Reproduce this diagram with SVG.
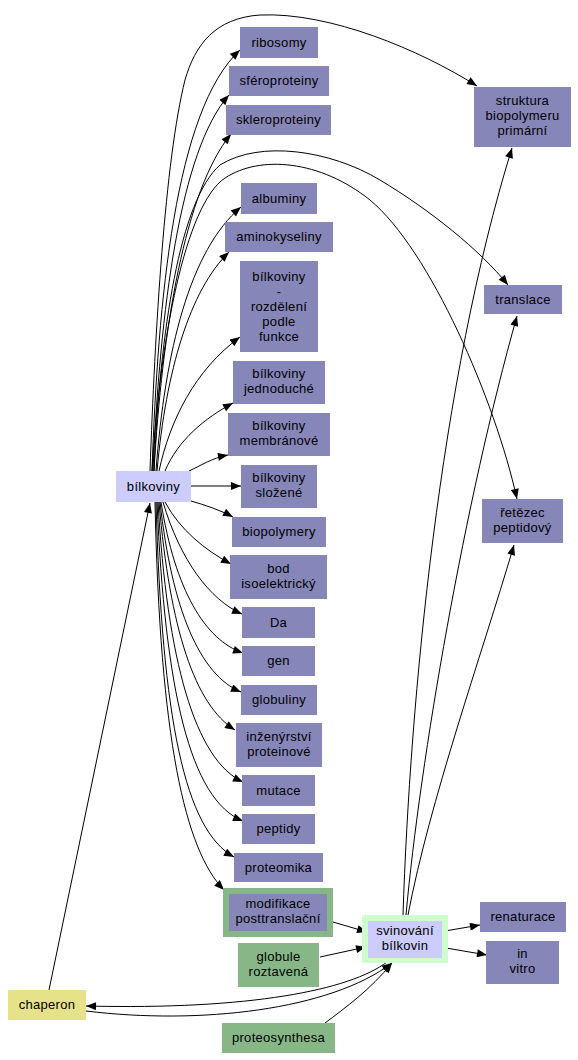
<svg xmlns="http://www.w3.org/2000/svg" width="578" height="1060" viewBox="0 0 578 1060">
<style>
.p{fill:#8686b8}
.g{fill:#87b787}
.lg{fill:#ccffcc}
.lv{fill:#ccccff}
.y{fill:#e6e28a}
text{font-family:"Liberation Sans",Arial,sans-serif;font-size:13px;letter-spacing:0.3px;fill:#000;text-anchor:middle}
.e path{fill:none;stroke:#000;stroke-width:1;marker-end:url(#a)}
</style>
<defs>
<marker id="a" viewBox="0 0 10 8" refX="10" refY="4" markerWidth="11" markerHeight="8" markerUnits="userSpaceOnUse" orient="auto"><path d="M0,0 L10,4 L0,8 z" fill="#000"/></marker>
</defs>
<rect width="578" height="1060" fill="#fff"/>
<g class="e">
<path d="M152,471 C158,300 175,110 240,50"/>
<path d="M153,471 C160,310 180,150 229,95"/>
<path d="M154,471 C162,330 185,190 231,134"/>
<path d="M156,471 C165,350 190,250 241,207"/>
<path d="M157,471 C166,370 190,290 229,252"/>
<path d="M159,471 C170,420 195,370 240,337"/>
<path d="M165,471 C178,440 205,418 233,403"/>
<path d="M189,471 C200,466 212,458 228,455"/>
<path d="M191,486 L241,486"/>
<path d="M191,501 C205,505 220,510 233,517"/>
<path d="M165,502 C180,530 205,550 231,564"/>
<path d="M163,502 C180,560 210,600 242,614"/>
<path d="M161,502 C175,590 205,640 243,653"/>
<path d="M160,502 C172,610 200,675 241,692"/>
<path d="M159,502 C170,630 195,705 235,730"/>
<path d="M158,502 C167,660 195,760 243,782"/>
<path d="M157,502 C165,690 190,800 243,821"/>
<path d="M156,502 C162,720 185,830 234,857"/>
<path d="M155,502 C160,740 185,850 224,890"/>
<path d="M150,471 C155,330 165,160 185,80 C195,45 215,18 260,15 C330,12 420,50 477,86"/>
<path d="M154,471 C160,330 180,200 220,165 C260,140 330,150 380,180 C430,210 480,250 508,285"/>
<path d="M152,471 C160,340 185,205 225,178 C260,155 320,160 370,200 C430,250 495,400 517,499"/>
<path d="M403,915 C410,700 440,380 512,148"/>
<path d="M406,915 C420,760 465,500 517,316"/>
<path d="M408,915 C430,800 480,660 514,545"/>
<path d="M445,931 L480,925"/>
<path d="M446,948 L487,955"/>
<path d="M333,922 L367,932"/>
<path d="M320,957 L366,947"/>
<path d="M387,962 C350,990 250,1010 86,1006"/>
<path d="M86,1011 C200,1025 330,1010 392,963"/>
<path d="M325,1023 C345,1008 370,990 392,963"/>
<path d="M49,990 L150,503"/>
</g>
<g id="ribosomy"><rect class="p" x="240" y="27" width="78" height="31"/><text x="279" y="47">ribosomy</text></g>
<g id="sferoproteiny"><rect class="p" x="229" y="66" width="100" height="30"/><text x="279" y="85">sféroproteiny</text></g>
<g id="skleroproteiny"><rect class="p" x="226" y="105" width="105" height="30"/><text x="278.5" y="124">skleroproteiny</text></g>
<g id="albuminy"><rect class="p" x="241" y="183" width="76" height="31"/><text x="279" y="203">albuminy</text></g>
<g id="aminokyseliny"><rect class="p" x="225" y="222" width="108" height="30"/><text x="279" y="241">aminokyseliny</text></g>
<g id="rozdeleni"><rect class="p" x="240" y="261" width="78" height="91"/><text x="279" y="280.5">bílkoviny</text><text x="279" y="295.5">-</text><text x="279" y="310.5">rozdělení</text><text x="279" y="325.5">podle</text><text x="279" y="340.5">funkce</text></g>
<g id="jednoduche"><rect class="p" x="233" y="361" width="92" height="43"/><text x="279" y="378">bílkoviny</text><text x="279" y="393">jednoduché</text></g>
<g id="membranove"><rect class="p" x="228" y="413" width="102" height="43"/><text x="279" y="430">bílkoviny</text><text x="279" y="445">membránové</text></g>
<g id="bilkoviny"><rect class="lv" x="116" y="471" width="75" height="31"/><text x="153.5" y="491">bílkoviny</text></g>
<g id="slozene"><rect class="p" x="241" y="465" width="76" height="43"/><text x="279" y="482">bílkoviny</text><text x="279" y="497">složené</text></g>
<g id="biopolymery"><rect class="p" x="232" y="517" width="94" height="30"/><text x="279" y="536">biopolymery</text></g>
<g id="bod"><rect class="p" x="230" y="555" width="97" height="44"/><text x="278.5" y="573">bod</text><text x="278.5" y="588">isoelektrický</text></g>
<g id="da"><rect class="p" x="242" y="607" width="73" height="31"/><text x="278.5" y="627">Da</text></g>
<g id="gen"><rect class="p" x="242" y="646" width="73" height="30"/><text x="278.5" y="665">gen</text></g>
<g id="globuliny"><rect class="p" x="241" y="685" width="76" height="30"/><text x="279" y="704">globuliny</text></g>
<g id="inzenyrstvi"><rect class="p" x="236" y="723" width="86" height="44"/><text x="279" y="741">inženýrství</text><text x="279" y="756">proteinové</text></g>
<g id="mutace"><rect class="p" x="242" y="775" width="73" height="31"/><text x="278.5" y="795">mutace</text></g>
<g id="peptidy"><rect class="p" x="242" y="814" width="73" height="30"/><text x="278.5" y="833">peptidy</text></g>
<g id="proteomika"><rect class="p" x="234" y="853" width="89" height="29"/><text x="278.5" y="872">proteomika</text></g>
<g id="modifikace"><rect class="g" x="223" y="888" width="110" height="49"/><rect class="p" x="229" y="894" width="98" height="37"/><text x="278" y="908">modifikace</text><text x="278" y="923">posttranslační</text></g>
<g id="svinovani"><rect class="lg" x="362" y="915" width="86" height="48"/><rect class="lv" x="368" y="921" width="74" height="37"/><text x="405" y="935">svinování</text><text x="405" y="950">bílkovin</text></g>
<g id="globule"><rect class="g" x="238" y="943" width="81" height="44"/><text x="278.5" y="961">globule</text><text x="278.5" y="976">roztavená</text></g>
<g id="renaturace"><rect class="p" x="480" y="902" width="86" height="30"/><text x="523" y="921">renaturace</text></g>
<g id="invitro"><rect class="p" x="486" y="941" width="73" height="43"/><text x="522.5" y="958">in</text><text x="522.5" y="973">vitro</text></g>
<g id="chaperon"><rect class="y" x="8" y="990" width="78" height="30"/><text x="47" y="1009">chaperon</text></g>
<g id="proteosynthesa"><rect class="g" x="222" y="1023" width="113" height="30"/><text x="278.5" y="1042">proteosynthesa</text></g>
<g id="struktura"><rect class="p" x="474" y="87" width="97" height="60"/><text x="522.5" y="105">struktura</text><text x="522.5" y="120">biopolymeru</text><text x="522.5" y="135">primární</text></g>
<g id="translace"><rect class="p" x="484" y="285" width="78" height="29"/><text x="523" y="304">translace</text></g>
<g id="retezec"><rect class="p" x="482" y="499" width="81" height="44"/><text x="522.5" y="517">řetězec</text><text x="522.5" y="532">peptidový</text></g>
</svg>
